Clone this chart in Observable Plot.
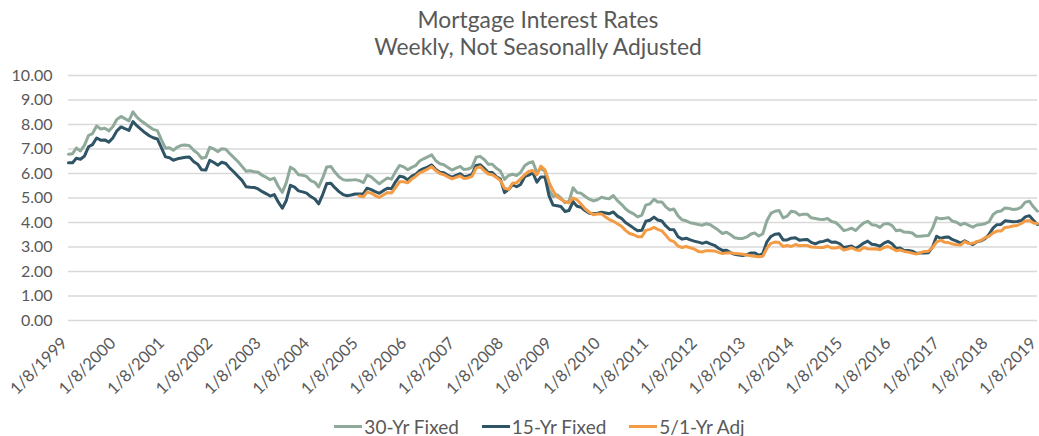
<!DOCTYPE html>
<html>
<head>
<meta charset="utf-8">
<script src="https://cdn.jsdelivr.net/npm/d3@7"></script>
<script src="https://cdn.jsdelivr.net/npm/@observablehq/plot@0.6"></script>
<style>
  html, body { margin: 0; padding: 0; background: #fff; }
  body { width: 1039px; height: 436px; overflow: hidden; font-family: Lato, "Open Sans", sans-serif; color: #595959; }
  #title { text-align: center; padding-top: 6px; padding-left: 37px; font-size: 22.8px; line-height: 27px; height: 54px; }
  #chart svg { display: block; }
  #legend { display: flex; justify-content: center; align-items: center; height: 46px; font-size: 19px; gap: 23px; padding-left: 40px; margin-top: 1px; }
  .item { display: flex; align-items: center; }
  .sw { width: 28px; height: 3px; margin-right: 2px; }
</style>
</head>
<body>
<div id="title">Mortgage Interest Rates<br>Weekly, Not Seasonally Adjusted</div>
<div id="chart"></div>
<div id="legend"></div>
<script>
// Series names and colours
const seriesNames = ["30-Yr Fixed", "15-Yr Fixed", "5/1-Yr Adj"];
const seriesColors = ["#8faa9a", "#2e5465", "#f39c45"];

// Axis ticks
const xTickLabels = ["1/8/1999","1/8/2000","1/8/2001","1/8/2002","1/8/2003","1/8/2004","1/8/2005",
  "1/8/2006","1/8/2007","1/8/2008","1/8/2009","1/8/2010","1/8/2011","1/8/2012","1/8/2013",
  "1/8/2014","1/8/2015","1/8/2016","1/8/2017","1/8/2018","1/8/2019"];
const yTicks = [0,1,2,3,4,5,6,7,8,9,10];

// Monthly readings (one per month, starting at the given date)
const start30 = "1/8/1999";
const rate30 = [
  6.79,6.81,7.04,6.92,7.15,7.55,7.63,7.94,7.82,7.85,7.74,7.91,
  8.21,8.33,8.24,8.15,8.52,8.29,8.15,8.03,7.91,7.80,7.75,7.38,
  7.03,7.05,6.95,7.08,7.15,7.16,7.13,6.95,6.82,6.62,6.66,7.07,
  7.00,6.89,7.01,6.99,6.81,6.65,6.49,6.29,6.09,6.11,6.07,6.05,
  5.92,5.84,5.75,5.81,5.48,5.23,5.63,6.26,6.15,5.95,5.93,5.88,
  5.71,5.64,5.45,5.83,6.27,6.29,6.06,5.87,5.75,5.72,5.73,5.75,
  5.71,5.63,5.93,5.86,5.72,5.58,5.70,5.82,5.77,6.07,6.33,6.27,
  6.15,6.25,6.32,6.51,6.60,6.68,6.76,6.52,6.40,6.36,6.24,6.14,
  6.22,6.29,6.16,6.18,6.26,6.66,6.70,6.57,6.38,6.38,6.21,6.10,
  5.76,5.92,5.97,5.92,6.04,6.32,6.43,6.48,6.04,6.20,6.09,5.33,
  5.06,5.13,5.00,4.81,4.86,5.42,5.22,5.19,5.06,4.95,4.88,4.93,
  5.03,4.99,4.97,5.10,4.89,4.74,4.56,4.43,4.35,4.23,4.30,4.71,
  4.76,4.95,4.84,4.84,4.64,4.51,4.55,4.27,4.11,4.07,3.99,3.96,
  3.92,3.89,3.95,3.91,3.80,3.68,3.55,3.60,3.50,3.38,3.35,3.35,
  3.41,3.53,3.57,3.45,3.54,4.07,4.37,4.46,4.49,4.19,4.26,4.46,
  4.43,4.30,4.34,4.34,4.19,4.16,4.13,4.12,4.16,4.04,4.00,3.86,
  3.67,3.71,3.77,3.67,3.84,3.98,4.05,3.91,3.89,3.80,3.94,3.96,
  3.87,3.66,3.69,3.61,3.60,3.57,3.44,3.44,3.46,3.47,3.77,4.20,
  4.15,4.17,4.20,4.05,4.01,3.90,3.97,3.88,3.81,3.90,3.92,3.95,
  4.03,4.33,4.44,4.47,4.59,4.57,4.53,4.55,4.63,4.83,4.87,4.64,
  4.46
];

const start15 = "1/8/1999";
const rate15 = [
  6.44,6.44,6.62,6.58,6.71,7.09,7.18,7.45,7.36,7.37,7.28,7.45,
  7.74,7.90,7.83,7.76,8.12,7.94,7.80,7.66,7.54,7.46,7.41,7.06,
  6.68,6.64,6.54,6.60,6.63,6.66,6.67,6.49,6.38,6.15,6.14,6.54,
  6.45,6.34,6.46,6.41,6.22,6.06,5.89,5.72,5.46,5.44,5.43,5.37,
  5.26,5.17,5.08,5.14,4.84,4.58,4.90,5.52,5.44,5.29,5.25,5.20,
  5.06,4.96,4.76,5.15,5.59,5.60,5.42,5.26,5.14,5.09,5.12,5.16,
  5.16,5.17,5.40,5.34,5.26,5.19,5.30,5.40,5.38,5.66,5.89,5.86,
  5.74,5.89,5.96,6.12,6.20,6.26,6.35,6.16,6.05,6.03,5.92,5.85,
  5.92,5.99,5.87,5.90,5.96,6.33,6.36,6.21,6.04,6.04,5.87,5.77,
  5.22,5.35,5.54,5.46,5.55,5.87,5.93,6.03,5.65,5.86,5.86,5.10,
  4.71,4.68,4.65,4.45,4.49,4.85,4.66,4.62,4.48,4.38,4.36,4.38,
  4.42,4.39,4.36,4.43,4.26,4.17,4.00,3.89,3.77,3.66,3.68,4.05,
  4.09,4.22,4.10,4.06,3.86,3.71,3.70,3.42,3.32,3.36,3.29,3.24,
  3.20,3.15,3.20,3.13,3.07,2.95,2.86,2.87,2.77,2.70,2.67,2.65,
  2.69,2.76,2.76,2.66,2.73,3.21,3.43,3.52,3.54,3.29,3.29,3.36,
  3.38,3.28,3.30,3.31,3.19,3.13,3.20,3.23,3.29,3.19,3.20,3.14,
  2.98,3.01,3.04,2.94,3.04,3.16,3.24,3.11,3.09,3.03,3.16,3.23,
  3.13,2.94,2.96,2.86,2.86,2.83,2.74,2.75,2.76,2.77,3.00,3.44,
  3.35,3.40,3.41,3.30,3.24,3.16,3.25,3.16,3.10,3.21,3.25,3.34,
  3.52,3.78,3.91,3.92,4.07,4.05,4.03,4.04,4.08,4.23,4.28,4.09,
  3.92
];

const start51 = "1/8/2005";
const rate51 = [
  5.08,5.05,5.24,5.20,5.10,5.02,5.12,5.22,5.20,5.42,5.66,5.66,
  5.62,5.78,5.88,6.02,6.10,6.18,6.28,6.12,6.00,5.95,5.86,5.78,
  5.84,5.90,5.80,5.82,5.88,6.22,6.28,6.12,5.98,5.95,5.84,5.72,
  5.40,5.35,5.60,5.62,5.78,5.95,6.08,6.12,5.95,6.30,6.15,5.65,
  5.30,5.05,4.95,4.85,4.80,5.00,4.92,4.75,4.55,4.42,4.32,4.35,
  4.35,4.22,4.12,4.05,3.95,3.85,3.68,3.55,3.50,3.42,3.42,3.68,
  3.72,3.80,3.72,3.66,3.48,3.28,3.22,3.04,2.98,3.02,2.97,2.92,
  2.82,2.80,2.85,2.85,2.84,2.78,2.73,2.76,2.77,2.73,2.72,2.70,
  2.67,2.64,2.62,2.60,2.62,2.95,3.15,3.20,3.18,3.02,3.06,3.02,
  3.10,3.05,3.06,3.06,3.00,2.99,2.98,2.98,3.04,2.96,2.96,3.00,
  2.87,2.92,2.97,2.89,2.86,2.98,2.93,2.92,2.93,2.89,2.98,3.02,
  2.94,2.85,2.88,2.82,2.79,2.75,2.71,2.77,2.82,2.83,2.98,3.20,
  3.28,3.19,3.18,3.12,3.09,3.08,3.22,3.14,3.15,3.22,3.27,3.38,
  3.44,3.58,3.65,3.65,3.80,3.82,3.86,3.88,3.96,4.06,4.08,3.98,
  3.96
];

const parse = d3.utcParse("%m/%d/%Y");
function monthly(name, startLabel, values) {
  const s = parse(startLabel);
  return values.map((v, i) => ({
    series: name,
    date: new Date(Date.UTC(s.getUTCFullYear(), s.getUTCMonth() + i, s.getUTCDate())),
    value: v
  }));
}
const rows = [
  ...monthly(seriesNames[0], start30, rate30),
  ...monthly(seriesNames[1], start15, rate15),
  ...monthly(seriesNames[2], start51, rate51)
];
const xTicks = xTickLabels.map(parse);

const chart = Plot.plot({
  width: 1039,
  height: 342,
  marginTop: 15,
  marginBottom: 82,
  marginLeft: 68,
  marginRight: 2,
  style: { fontFamily: "Lato, 'Open Sans', sans-serif", fontSize: "16px", color: "#595959", background: "white" },
  x: { type: "utc", domain: [xTicks[0], xTicks[xTicks.length - 1]], axis: null },
  y: { domain: [0, 10] },
  color: { domain: seriesNames, range: seriesColors },
  marks: [
    Plot.gridY(yTicks, { stroke: "#d9d9d9", strokeOpacity: 1, strokeWidth: 1.3 }),
    Plot.axisY({ ticks: yTicks, tickFormat: d3.format(".2f"), tickSize: 0, tickPadding: 16, label: null, fontSize: 16 }),
    Plot.text(xTicks, {
      x: d => d,
      text: (d, i) => xTickLabels[i],
      frameAnchor: "bottom",
      dy: 20,
      dx: -4,
      rotate: -45,
      textAnchor: "end",
      lineAnchor: "middle",
      fontSize: 16.5,
      fill: "#595959"
    }),
    Plot.lineY(rows, { x: "date", y: "value", z: "series", stroke: "series", strokeWidth: 3, curve: "linear" })
  ]
});
document.getElementById("chart").appendChild(chart);

const legend = document.getElementById("legend");
seriesNames.forEach((n, i) => {
  const item = document.createElement("div");
  item.className = "item";
  const sw = document.createElement("span");
  sw.className = "sw";
  sw.style.background = seriesColors[i];
  const t = document.createElement("span");
  t.textContent = n;
  item.appendChild(sw);
  item.appendChild(t);
  legend.appendChild(item);
});
</script>
</body>
</html>
